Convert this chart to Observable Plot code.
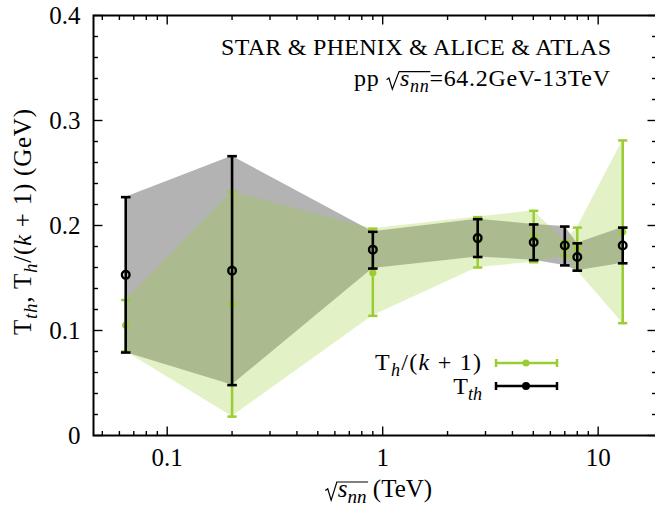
<!DOCTYPE html>
<html><head><meta charset="utf-8">
<script src="https://cdn.jsdelivr.net/npm/d3@7"></script>
<script src="https://cdn.jsdelivr.net/npm/@observablehq/plot@0.6"></script>
<style>body{margin:0;background:#fff} svg{display:block}</style>
</head><body><div id="chart"></div>
<script>
// ---- data ----
const energies = [0.0642, 0.2, 0.9, 2.76, 5.02, 7, 8, 13];          // sqrt(s_nn) in TeV
const tth      = [0.153, 0.157, 0.177, 0.188, 0.184, 0.181, 0.170, 0.181];
const tthLow   = [0.079, 0.048, 0.159, 0.170, 0.167, 0.162, 0.157, 0.164];
const tthHigh  = [0.227, 0.266, 0.194, 0.206, 0.201, 0.199, 0.183, 0.198];
const thk      = [0.105, 0.125, 0.155, 0.185, 0.190, 0.178, 0.178, 0.194];
const thkLow   = [0.080, 0.018, 0.114, 0.160, 0.165, 0.171, 0.157, 0.107];
const thkHigh  = [0.129, 0.232, 0.197, 0.208, 0.214, 0.185, 0.198, 0.281];

const xMajorTicks = [0.1, 1, 10];
const xTickLabels = ["0.1", "1", "10"];
const xMinorTicks = [0.05,0.06,0.07,0.08,0.09, 0.2,0.3,0.4,0.5,0.6,0.7,0.8,0.9, 2,3,4,5,6,7,8,9];
const yMajorTicks = [0, 0.1, 0.2, 0.3, 0.4];
const yTickLabels = ["0", "0.1", "0.2", "0.3", "0.4"];
const yMinorTicks = [0.02,0.04,0.06,0.08,0.12,0.14,0.16,0.18,0.22,0.24,0.26,0.28,0.32,0.34,0.36,0.38];
const xDomain = [0.0455, 18.65];
const yDomain = [0, 0.4];

// ---- styling ----
const FONT = "Liberation Serif, Times New Roman, serif";
const GREEN = "#9acd32";
const GRAY = "#b3b3b3";
const FS = 24;

const rows = energies.map((e, i) => ({
  e, tth: tth[i], tthLo: tthLow[i], tthHi: tthHigh[i],
  th: thk[i], thLo: thkLow[i], thHi: thkHigh[i]
}));

const capSym = {draw(ctx, size) { const r = Math.sqrt(size / Math.PI); ctx.moveTo(-r, 0); ctx.lineTo(r, 0); }};
const tickSym = (dx, dy) => ({draw(ctx) { ctx.moveTo(0, 0); ctx.lineTo(dx, dy); }});
const tk = {fill: "none", stroke: "black", strokeWidth: 1.4};

const chart = Plot.plot({
  width: 655, height: 508,
  marginLeft: 93, marginTop: 15, marginBottom: 73, marginRight: -1,
  style: {fontFamily: FONT, fontSize: "25px", background: "white"},
  x: {type: "log", domain: xDomain},
  y: {domain: yDomain},
  marks: [
    Plot.areaY(rows, {x: "e", y1: "tthLo", y2: "tthHi", fill: GRAY}),
    Plot.areaY(rows, {x: "e", y1: "thLo", y2: "thHi", fill: GREEN, fillOpacity: 0.28}),
    // green error bars
    Plot.ruleX(rows, {x: "e", y1: "thLo", y2: "thHi", stroke: GREEN, strokeWidth: 2.5}),
    Plot.dot(rows, {x: "e", y: "thLo", symbol: capSym, r: 4.6, fill: "none", stroke: GREEN, strokeWidth: 2.5}),
    Plot.dot(rows, {x: "e", y: "thHi", symbol: capSym, r: 4.6, fill: "none", stroke: GREEN, strokeWidth: 2.5}),
    Plot.dot(rows, {x: "e", y: "th", r: 3.6, fill: GREEN, stroke: "none"}),
    // black error bars
    Plot.ruleX(rows, {x: "e", y1: "tthLo", y2: "tthHi", stroke: "black", strokeWidth: 2.6}),
    Plot.dot(rows, {x: "e", y: "tthLo", symbol: capSym, r: 4.8, fill: "none", stroke: "black", strokeWidth: 2.6}),
    Plot.dot(rows, {x: "e", y: "tthHi", symbol: capSym, r: 4.8, fill: "none", stroke: "black", strokeWidth: 2.6}),
    Plot.dot(rows, {x: "e", y: "tth", r: 3.8, fill: "none", stroke: "black", strokeWidth: 2.4}),
    // inward ticks
    Plot.dot(yMajorTicks, {y: d => d, frameAnchor: "left", symbol: tickSym(9, 0), ...tk}),
    Plot.dot(yMinorTicks, {y: d => d, frameAnchor: "left", symbol: tickSym(4.5, 0), ...tk}),
    Plot.dot(yMajorTicks, {y: d => d, frameAnchor: "right", symbol: tickSym(-9, 0), ...tk}),
    Plot.dot(yMinorTicks, {y: d => d, frameAnchor: "right", symbol: tickSym(-4.5, 0), ...tk}),
    Plot.dot(xMajorTicks, {x: d => d, frameAnchor: "bottom", symbol: tickSym(0, -9), ...tk}),
    Plot.dot(xMinorTicks, {x: d => d, frameAnchor: "bottom", symbol: tickSym(0, -4.5), ...tk}),
    Plot.dot(xMajorTicks, {x: d => d, frameAnchor: "top", symbol: tickSym(0, 9), ...tk}),
    Plot.dot(xMinorTicks, {x: d => d, frameAnchor: "top", symbol: tickSym(0, 4.5), ...tk}),
    // tick labels
    Plot.axisY(yMajorTicks, {tickSize: 0, tickPadding: 13, label: null, fontSize: 25,
      tickFormat: d => yTickLabels[yMajorTicks.indexOf(d)]}),
    Plot.axisX(xMajorTicks, {tickSize: 0, tickPadding: 13, label: null, fontSize: 25,
      tickFormat: d => xTickLabels[xMajorTicks.indexOf(d)]}),
    Plot.frame({stroke: "black", strokeWidth: 2})
  ]
});
document.getElementById("chart").appendChild(chart);

// ---- annotations (rich text) ----
const svg = d3.select(chart);
const ann = svg.append("g").attr("font-family", FONT).attr("fill", "black");

function rich(runs, o) {
  const size = o.size || FS;
  const t = ann.append("text")
    .attr("x", o.x || 0).attr("y", o.y || 0)
    .attr("text-anchor", o.anchor || "start")
    .attr("font-size", size);
  if (o.transform) t.attr("transform", o.transform);
  let shift = 0, idx = 0;
  runs.forEach(r => {
    const ts = t.append("tspan").text(r.t);
    const target = r.sub ? size * 0.24 : 0;
    if (target !== shift) { ts.attr("dy", target - shift); shift = target; }
    if (r.sub) ts.attr("font-size", Math.round(size * 0.76));
    if (r.it) ts.attr("font-style", "italic");
    if (r.gap) ts.attr("dx", r.gap);
    r.start = idx; idx += r.t.length; r.end = idx;
  });
  if (o.length) t.attr("textLength", o.length).attr("lengthAdjust", "spacing");
  const radRuns = runs.filter(r => r.rad);
  if (radRuns.length) {
    const node = t.node();
    const s0 = radRuns[0].start, s1 = radRuns[radRuns.length - 1].end - 1;
    const xs = node.getStartPositionOfChar(s0).x;
    const xe = node.getEndPositionOfChar(s1).x;
    const yb = o.y;
    const g = radRuns[0].gap || 10;
    const xl = xs - g + 0.5;
    const top = yb - 0.60 * size;
    ann.append("path")
      .attr("d", `M${xl},${yb - 0.26 * size} L${xl + 2.4},${yb - 0.33 * size} L${xl + 5.8},${yb + 0.13 * size} L${xs - 1},${top} L${xe + 1.5},${top}`)
      .attr("fill", "none").attr("stroke", "black").attr("stroke-width", 1.2)
      .attr("stroke-linejoin", "miter");
  }
  return t;
}

// title
rich([{t: "STAR & PHENIX & ALICE & ATLAS"}], {x: 611, y: 55, anchor: "end", length: 390});
rich([{t: "pp "}, {t: "s", it: true, rad: true, gap: 14}, {t: "nn", it: true, sub: true, rad: true},
      {t: "=64.2GeV-13TeV"}], {x: 610, y: 86, anchor: "end", length: 256});

// x label
rich([{t: "s", it: true, rad: true, gap: 13}, {t: "nn", it: true, sub: true, rad: true}, {t: " (TeV)"}],
     {x: 372, y: 497, anchor: "middle", size: 25});

// y label
rich([{t: "T"}, {t: "th", it: true, sub: true}, {t: ", T"}, {t: "h", it: true, sub: true},
      {t: "/("}, {t: "k", it: true}, {t: " + 1) (GeV)"}],
     {x: 0, y: 0, anchor: "middle", size: 25, transform: "translate(31,222) rotate(-90)", length: 226});

// legend
rich([{t: "T"}, {t: "h", it: true, sub: true}, {t: "/("}, {t: "k", it: true}, {t: " + 1)"}],
     {x: 481, y: 370, anchor: "end", size: 24, length: 106});
rich([{t: "T"}, {t: "th", it: true, sub: true}], {x: 482, y: 394, anchor: "end", size: 24});

const legendItems = [{color: GREEN, y: 363, open: false}, {color: "black", y: 386, open: true}];
legendItems.forEach(L => {
  const lg = ann.append("g").attr("stroke", L.color).attr("stroke-width", 2.5).attr("fill", "none");
  lg.append("line").attr("x1", 496).attr("x2", 557).attr("y1", L.y).attr("y2", L.y);
  lg.append("line").attr("x1", 496).attr("x2", 496).attr("y1", L.y - 4).attr("y2", L.y + 4);
  lg.append("line").attr("x1", 557).attr("x2", 557).attr("y1", L.y - 4).attr("y2", L.y + 4);
  lg.append("circle").attr("cx", 526).attr("cy", L.y).attr("r", L.open ? 3 : 3.5)
    .attr("fill", L.color).attr("stroke-width", L.open ? 2 : 0);
});
</script>
</body></html>
